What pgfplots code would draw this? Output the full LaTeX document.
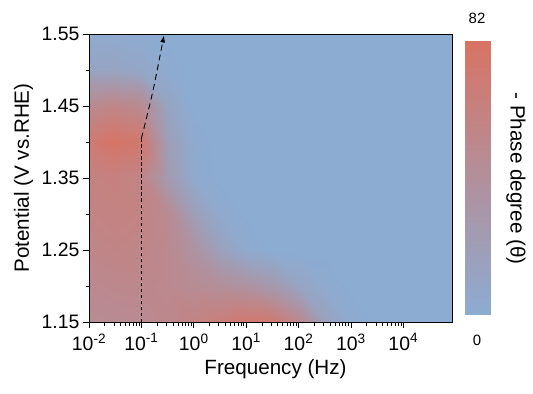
\documentclass[border=0pt]{standalone}
\usepackage{pgfplots}
\pgfplotsset{compat=1.18}
\usepackage{fontspec}
\setmainfont{Liberation Sans}
\usetikzlibrary{arrows.meta}
\begin{document}
\begin{tikzpicture}
\path[use as bounding box] (-89bp,-72bp) rectangle (444bp,322bp);
\begin{axis}[
  scale only axis, width=363bp, height=288bp,
  xmode=log, xmin=0.01, xmax=85114, ymin=1.15, ymax=1.55,
  axis on top,
  colormap={br}{rgb255=(140,172,210) rgb255=(216,115,100)},
  point meta min=0, point meta max=82,
  xtick={0.01,0.1,1,10,100,1000,10000},
  xticklabels={10\textsuperscript{-2},10\textsuperscript{-1},10\textsuperscript{0},10\textsuperscript{1},10\textsuperscript{2},10\textsuperscript{3},10\textsuperscript{4}},
  ytick={1.15,1.25,1.35,1.45,1.55},
  yticklabels={1.15,1.25,1.35,1.45,1.55},
  minor ytick={1.20,1.30,1.40,1.50},
  tick align=outside, xtick pos=bottom, ytick pos=left,
  major tick length=6bp, minor tick length=3.5bp,
  tick style={black, line width=0.7pt},
  axis line style={black, line width=0.8pt},
  ticklabel style={font=\fontsize{19.5}{22}\selectfont},
  xticklabel style={yshift=-2bp},
  label style={font=\fontsize{20.7}{24}\selectfont},
  xlabel={Frequency (Hz)},
  ylabel={Potential (V vs.RHE)},
  xlabel style={at={(axis description cs:0.5,0)}, anchor=center, yshift=-47bp, xshift=5bp},
  ylabel style={at={(axis description cs:-0.18,0.5)}, anchor=center},
]
\addplot[surf, shader=interp, mesh/cols=15, point meta=explicit] table[meta=c] {
x y c
0.01 1.15 45
0.0316 1.15 47
0.1 1.15 48
0.316 1.15 52
1 1.15 58
3.16 1.15 65
10 1.15 73
31.6 1.15 72
100 1.15 52
316 1.15 16
1000 1.15 3
3162 1.15 0
10000 1.15 0
31623 1.15 0
100000 1.15 0
0.01 1.20 50
0.0316 1.20 52
0.1 1.20 52
0.316 1.20 50
1 1.20 46
3.16 1.20 42
10 1.20 37
31.6 1.20 28
100 1.20 12
316 1.20 3
1000 1.20 0
3162 1.20 0
10000 1.20 0
31623 1.20 0
100000 1.20 0
0.01 1.25 55
0.0316 1.25 57
0.1 1.25 55
0.316 1.25 50
1 1.25 36
3.16 1.25 16
10 1.25 4
31.6 1.25 0
100 1.25 0
316 1.25 0
1000 1.25 0
3162 1.25 0
10000 1.25 0
31623 1.25 0
100000 1.25 0
0.01 1.30 58
0.0316 1.30 60
0.1 1.30 58
0.316 1.30 48
1 1.30 20
3.16 1.30 4
10 1.30 0
31.6 1.30 0
100 1.30 0
316 1.30 0
1000 1.30 0
3162 1.30 0
10000 1.30 0
31623 1.30 0
100000 1.30 0
0.01 1.35 60
0.0316 1.35 62
0.1 1.35 56
0.316 1.35 25
1 1.35 4
3.16 1.35 0
10 1.35 0
31.6 1.35 0
100 1.35 0
316 1.35 0
1000 1.35 0
3162 1.35 0
10000 1.35 0
31623 1.35 0
100000 1.35 0
0.01 1.40 72
0.0316 1.40 80
0.1 1.40 74
0.316 1.40 20
1 1.40 2
3.16 1.40 0
10 1.40 0
31.6 1.40 0
100 1.40 0
316 1.40 0
1000 1.40 0
3162 1.40 0
10000 1.40 0
31623 1.40 0
100000 1.40 0
0.01 1.45 50
0.0316 1.45 55
0.1 1.45 50
0.316 1.45 12
1 1.45 0
3.16 1.45 0
10 1.45 0
31.6 1.45 0
100 1.45 0
316 1.45 0
1000 1.45 0
3162 1.45 0
10000 1.45 0
31623 1.45 0
100000 1.45 0
0.01 1.50 12
0.0316 1.50 12
0.1 1.50 8
0.316 1.50 2
1 1.50 0
3.16 1.50 0
10 1.50 0
31.6 1.50 0
100 1.50 0
316 1.50 0
1000 1.50 0
3162 1.50 0
10000 1.50 0
31623 1.50 0
100000 1.50 0
0.01 1.55 3
0.0316 1.55 3
0.1 1.55 2
0.316 1.55 0
1 1.55 0
3.16 1.55 0
10 1.55 0
31.6 1.55 0
100 1.55 0
316 1.55 0
1000 1.55 0
3162 1.55 0
10000 1.55 0
31623 1.55 0
100000 1.55 0
};
\addplot[black, line width=0.8pt, dash pattern=on 3.5bp off 2.5bp] coordinates {(0.1,1.15) (0.1,1.405)};
\addplot[black, line width=0.9pt, dash pattern=on 6bp off 4bp, smooth, -{Latex[length=7bp,width=5bp]}] coordinates {(0.1,1.405) (0.165,1.47) (0.27,1.548)};
\end{axis}
\begin{axis}[
  at={(376bp,7bp)}, anchor=south west,
  scale only axis, width=25bp, height=274bp, hide axis,
  xmin=0, xmax=1, ymin=0, ymax=82,
  colormap={br}{rgb255=(140,172,210) rgb255=(216,115,100)},
  point meta min=0, point meta max=82,
]
\addplot[surf, shader=interp, mesh/cols=2, point meta=explicit] table[meta=c] {
x y c
0 0 0
1 0 0
0 82 82
1 82 82
};
\end{axis}
\node[font=\fontsize{15}{18}\selectfont] at (388bp,304bp) {82};
\node[font=\fontsize{15}{18}\selectfont] at (388bp,-18bp) {0};
\node[rotate=-90, font=\fontsize{20.7}{24}\selectfont] at (427bp,143.5bp) {- Phase degree (θ)};
\end{tikzpicture}
\end{document}
